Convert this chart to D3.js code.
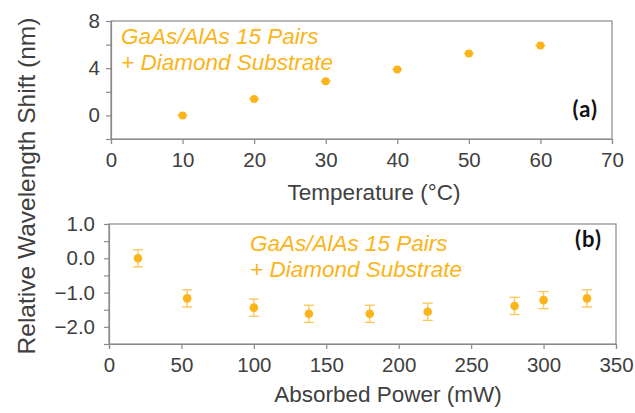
<!DOCTYPE html>
<html><head><meta charset="utf-8">
<script src="https://cdn.jsdelivr.net/npm/d3@7"></script>
<style>
body{margin:0;background:#fff;}
svg{display:block;font-family:"Liberation Sans",Arial,sans-serif;}
</style></head><body>
<svg id="c" width="635" height="413"></svg>
<script>
// Panel (a): temperature dependence
const tempC = [10, 20, 30, 40, 50, 60];
const shiftA = [0.0, 1.4, 2.9, 3.9, 5.25, 5.93];
const errA = [0.15, 0.15, 0.15, 0.15, 0.15, 0.15];
const xTicksA = [0, 10, 20, 30, 40, 50, 60, 70];
const yTicksA = [-2, 0, 2, 4, 6, 8];
const yLabelsA = [0, 4, 8];

// Panel (b): absorbed power dependence
const powerMW = [20, 54, 100, 138, 180, 220, 280, 300, 330];
const shiftB = [0.0, -1.17, -1.44, -1.62, -1.62, -1.56, -1.39, -1.22, -1.17];
const errB = [0.25, 0.25, 0.25, 0.25, 0.25, 0.25, 0.25, 0.25, 0.25];
const xTicksB = [0, 50, 100, 150, 200, 250, 300, 350];
const yTicksB = [-2.5, -2.0, -1.5, -1.0, -0.5, 0.0, 0.5, 1.0];
const yLabelsB = [-2.0, -1.0, 0.0, 1.0];

const sampleLines = ["GaAs/AlAs 15 Pairs", "+ Diamond Substrate"];

const svg = d3.select("#c");
const orange = "#FBB41A";
const axisCol = "#8a8a8a";
const textCol = "#404040";

function panel(o) {
  const g = svg.append("g");
  const x = d3.scaleLinear().domain(o.xd).range([o.l, o.r]);
  const y = d3.scaleLinear().domain(o.yd).range([o.b, o.t]);
  g.append("rect").attr("x", o.l).attr("y", o.t).attr("width", o.r - o.l).attr("height", o.b - o.t)
    .attr("fill", "none").attr("stroke", axisCol).attr("stroke-width", 1.2);
  const xa = g.append("g").attr("transform", `translate(0,${o.b})`)
    .call(d3.axisBottom(x).tickValues(o.xt).tickSize(5).tickPadding(8).tickFormat(d3.format("d")));
  const ya = g.append("g").attr("transform", `translate(${o.l},0)`)
    .call(d3.axisLeft(y).tickValues(o.yt).tickSize(5).tickPadding(o.ypad)
      .tickFormat(d => o.yl.some(v => Math.abs(v - d) < 1e-9) ? o.yf(d) : ""));
  [xa, ya].forEach(a => {
    a.selectAll("path,line").attr("stroke", axisCol).attr("stroke-width", 1.2);
    a.selectAll("text").attr("fill", textCol).style("font-size", "20.5px").style("font-family", "Liberation Sans, Arial, sans-serif");
  });
  const eb = g.append("g").attr("stroke", orange).attr("stroke-width", 1.3).attr("opacity", o.ebOp);
  o.xs.forEach((xv, i) => {
    const yv = o.ys[i], e = o.es[i];
    if (o.horizErr) {
      eb.append("line").attr("x1", x(xv) - o.cap).attr("x2", x(xv) + o.cap).attr("y1", y(yv)).attr("y2", y(yv));
    } else {
      eb.append("line").attr("x1", x(xv)).attr("x2", x(xv)).attr("y1", y(yv - e)).attr("y2", y(yv + e));
      eb.append("line").attr("x1", x(xv) - o.cap).attr("x2", x(xv) + o.cap).attr("y1", y(yv - e)).attr("y2", y(yv - e));
      eb.append("line").attr("x1", x(xv) - o.cap).attr("x2", x(xv) + o.cap).attr("y1", y(yv + e)).attr("y2", y(yv + e));
    }
  });
  g.append("g").selectAll("circle").data(o.xs).join("circle")
    .attr("cx", d => x(d)).attr("cy", (d, i) => y(o.ys[i])).attr("r", o.rad).attr("fill", orange);
  const lab = g.append("text").attr("fill", orange).style("font-style", "italic").style("font-size", "22.5px");
  sampleLines.forEach((s, i) => lab.append("tspan").attr("x", o.labX).attr("y", o.labY + i * 26).text(s));
  g.append("text").attr("x", o.r - 14).attr("y", o.tagY).attr("text-anchor", "end")
    .style("font-family", "Lato, 'Open Sans', sans-serif").style("font-weight", "bold").style("font-size", "22px")
    .style("letter-spacing", "1px").attr("fill", "#111").text(o.tag);
  g.append("text").attr("x", o.titleX).attr("y", o.titleY).attr("text-anchor", "middle")
    .attr("fill", textCol).style("font-size", "22.5px").text(o.title);
}

panel({xd: [0, 70], yd: [-2, 8], l: 111, r: 612, t: 21, b: 139, xt: xTicksA, yt: yTicksA, yl: yLabelsA,
  yf: d3.format("d"), ypad: 6, xs: tempC, ys: shiftA, es: errA, horizErr: true, cap: 5, rad: 4, ebOp: 0.9,
  labX: 121, labY: 44, tag: "(a)", tagY: 117, title: "Temperature (\u00B0C)", titleX: 374, titleY: 200});

panel({xd: [0, 350], yd: [-2.5, 1.0], l: 109, r: 616, t: 224, b: 344, xt: xTicksB, yt: yTicksB, yl: yLabelsB,
  yf: d3.format(".1f"), ypad: 9, xs: powerMW, ys: shiftB, es: errB, horizErr: false, cap: 5, rad: 4.3, ebOp: 0.75,
  labX: 250, labY: 251, tag: "(b)", tagY: 247, title: "Absorbed Power (mW)", titleX: 388, titleY: 402});

svg.append("text").attr("transform", "translate(35,186) rotate(-90)").attr("text-anchor", "middle")
  .attr("fill", textCol).style("font-size", "24.5px").text("Relative Wavelength Shift (nm)");
</script>
</body></html>
